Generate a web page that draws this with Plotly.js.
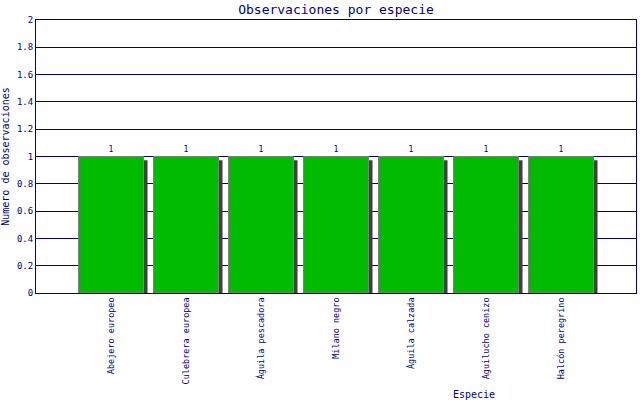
<!DOCTYPE html>
<html>
<head>
<meta charset="utf-8">
<script src="https://cdn.plot.ly/plotly-3.0.1.min.js"></script>
<style>
  html, body { margin: 0; padding: 0; background: #fff; }
  #chart { width: 640px; height: 400px; }
</style>
</head>
<body>
<div id="chart"></div>
<script>
// species observed and how many times
const especies = [
  'Abejero europeo', 'Culebrera europea', 'Águila pescadora',
  'Milano negro', 'Águila calzada', 'Aguilucho cenizo', 'Halcón peregrino'
];
const observaciones = [1, 1, 1, 1, 1, 1, 1];
const yTicks = [0, 0.2, 0.4, 0.6, 0.8, 1, 1.2, 1.4, 1.6, 1.8, 2];

const NAVY = '#000080';
const FONT = 'DejaVu Sans Mono, monospace';

const xPos = especies.map((_, i) => i + 1);

// drop shadow behind each bar, shifted a few pixels right and down
const shadow = {
  type: 'bar',
  x: xPos,
  y: observaciones.map(v => v * 0.972),
  width: 0.867,
  offset: -0.38,
  marker: { color: '#404040', line: { width: 0 } },
  hoverinfo: 'skip',
  showlegend: false
};

const bars = {
  type: 'bar',
  x: xPos,
  y: observaciones,
  width: 0.867,
  offset: -0.4335,
  marker: { color: '#00bb00', line: { color: '#808080', width: 1 } },
  text: observaciones.map(String),
  textposition: 'outside',
  textfont: { family: FONT, size: 8, color: NAVY },
  cliponaxis: false,
  showlegend: false
};

const layout = {
  width: 640,
  height: 400,
  margin: { t: 20, r: 4, b: 107, l: 36 },
  paper_bgcolor: '#ffffff',
  plot_bgcolor: '#ffffff',
  barmode: 'overlay',
  font: { family: FONT, color: NAVY },
  title: {
    text: 'Observaciones por especie',
    font: { family: FONT, size: 13, color: NAVY },
    x: 0.525, xanchor: 'center', y: 0.977, yanchor: 'middle'
  },
  xaxis: {
    range: [0, 8],
    tickvals: xPos,
    ticktext: especies,
    tickangle: -90,
    tickfont: { family: FONT, size: 8.5, color: NAVY },
    showgrid: false,
    zeroline: false,
    showline: true,
    linecolor: NAVY,
    linewidth: 1,
    mirror: true,
    ticks: '',
    fixedrange: true
  },
  yaxis: {
    range: [0, 2],
    tickvals: yTicks,
    ticktext: yTicks.map(String),
    tickfont: { family: FONT, size: 9, color: NAVY },
    showgrid: true,
    gridcolor: NAVY,
    gridwidth: 1,
    zeroline: false,
    showline: true,
    linecolor: NAVY,
    linewidth: 1,
    mirror: true,
    ticks: '',
    ticklen: 0,
    title: {
      text: 'Numero de observaciones',
      font: { family: FONT, size: 10, color: NAVY },
      standoff: 6
    },
    fixedrange: true
  },
  annotations: [{
    text: 'Especie',
    xref: 'paper', yref: 'paper',
    x: 0.73, y: -0.37,
    xanchor: 'center', yanchor: 'middle',
    showarrow: false,
    font: { family: FONT, size: 10, color: NAVY }
  }]
};

Plotly.newPlot('chart', [shadow, bars], layout, { displayModeBar: false, staticPlot: true });
</script>
</body>
</html>
